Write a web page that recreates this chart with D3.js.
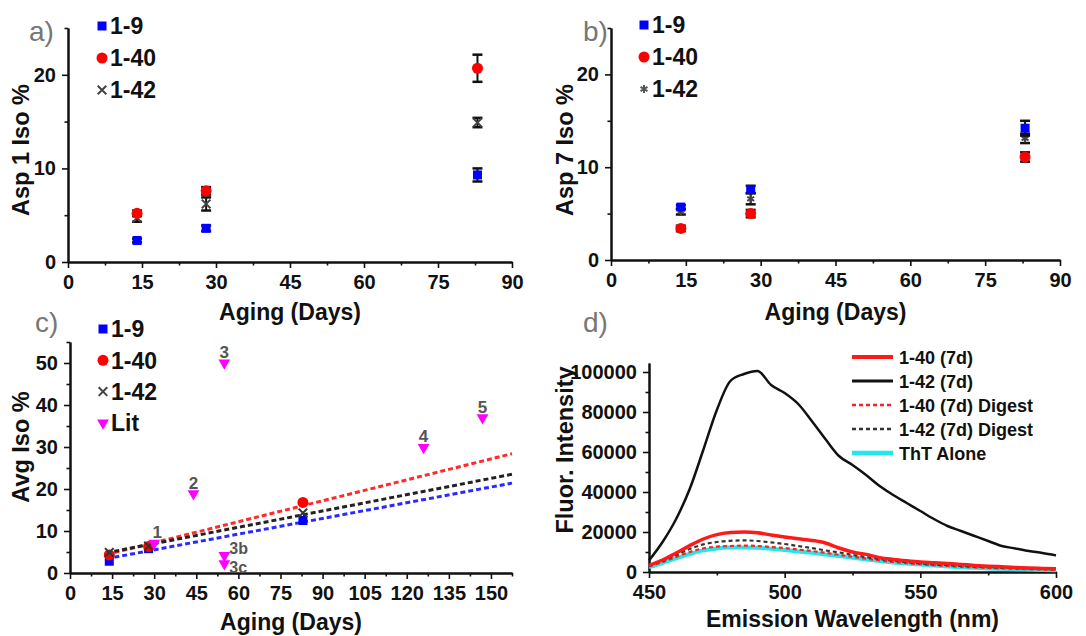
<!DOCTYPE html>
<html>
<head>
<meta charset="utf-8">
<script src="https://cdn.jsdelivr.net/npm/d3@7"></script>
<style>
  body { margin: 0; background: #fff; }
  svg { display: block; font-family: "Liberation Sans", Arial, sans-serif; }
  .tick text { font-size: 20px; font-weight: bold; fill: #111; font-family: "Liberation Sans", Arial, sans-serif; }
  .domain { stroke: #111; stroke-width: 2; }
  .tick line { stroke: #111; stroke-width: 1.6; }
</style>
</head>
<body>
<svg width="1086" height="636"></svg>
<script>
// ---- data: panels a-c (days aged)
var days = [14, 28, 83];

// a) Asp 1 Iso %
var a19 = [2.3, 3.6, 9.3],   a19Err = [0.2, 0.3, 0.7];
var a140 = [5.2, 7.6, 20.7], a140Err = [0.3, 0.4, 1.45];
var a142 = [4.7, 6.2, 14.9], a142Err = [0.4, 0.7, 0.5];

// b) Asp 7 Iso %
var b19 = [5.7, 7.6, 14.2],  b19Err = [0.2, 0.4, 0.8];
var b140 = [3.4, 5.0, 11.1], b140Err = [0.3, 0.4, 0.5];
var b142 = [5.2, 6.6, 13.1], b142Err = [0.3, 0.6, 0.5];

// c) Avg Iso % with linear fits
var c19 = [2.8, 5.8, 12.5];
var c140 = [4.3, 6.3, 16.8];
var c142 = [4.9, 6.4, 14.3];
var fitDays = [13, 157.5];
var fit19 = [3.4, 21.4];
var fit140 = [4.4, 28.4];
var fit142 = [4.8, 23.5];
var litDays = [30, 44, 55, 55, 55, 126, 147];
var litVals = [7.1, 18.9, 50, 4.2, 2.2, 29.9, 37];
var litLabels = ["1", "2", "3", "3b", "3c", "4", "5"];

// d) ThT fluorescence spectra
var wl = [450,455,460,465,470,475,480,485,490,495,500,505,510,515,520,525,530,535,540,545,550,555,560,565,570,575,580,585,590,595,600];
var f140 = [3300,6000,9500,13200,16500,18700,19700,20000,19600,18500,17500,16600,15800,14500,12000,10000,8800,7200,6300,5600,5000,4600,4200,3800,3300,2900,2600,2300,2000,1800,1600];
var f142 = [5800,15000,26500,41500,61000,81000,95500,99000,100500,93500,89500,84000,75500,66500,58000,53500,48500,43000,38500,34500,30500,26500,23000,20500,18000,15500,13000,11800,10500,9500,8300];
var f140d = [2800,5000,7500,10000,11800,12700,13000,13200,13000,12500,12000,11200,10500,9600,8600,7600,6700,5800,5000,4400,3900,3400,3000,2600,2300,2000,1800,1600,1400,1200,1100];
var f142d = [3000,5500,8500,11500,13800,15000,15600,15800,15500,14800,14000,13000,12000,10800,9800,8600,7500,6500,5600,4900,4300,3800,3400,3000,2700,2400,2100,1900,1700,1500,1300];
var fTht = [2400,4500,6800,9000,10800,11800,12200,12300,12100,11600,11000,10300,9600,8800,8000,7100,6300,5500,4800,4200,3700,3200,2800,2400,2100,1800,1600,1400,1200,1000,900];

var svg = d3.select("svg");
svg.append("rect").attr("width", 1086).attr("height", 636).attr("fill", "#fff");

// build an Origin-style frame: left + bottom axes, major and minor ticks out
function frame(o) {
    var x = d3.scaleLinear().domain(o.xd).range([o.x0, o.x1]);
    var y = d3.scaleLinear().domain(o.yd).range([o.y1, o.y0]);
    var g = svg.append("g");

    g.append("g").attr("transform", "translate(0," + o.y1 + ")")
        .call(d3.axisBottom(x).tickValues(o.xMinor).tickSize(3.5).tickSizeOuter(0).tickFormat(""));
    g.append("g").attr("transform", "translate(0," + o.y1 + ")")
        .call(d3.axisBottom(x).tickValues(o.xMajor).tickSize(6).tickSizeOuter(0).tickPadding(7)
            .tickFormat(d3.format("d")));
    g.append("g").attr("transform", "translate(" + o.x0 + ",0)")
        .call(d3.axisLeft(y).tickValues(o.yMinor).tickSize(3.5).tickSizeOuter(0).tickFormat(""));
    g.append("g").attr("transform", "translate(" + o.x0 + ",0)")
        .call(d3.axisLeft(y).tickValues(o.yMajor).tickSize(6).tickSizeOuter(0).tickPadding(6)
            .tickFormat(d3.format("d")));

    // panel letter
    svg.append("text").attr("x", o.letterX).attr("y", o.letterY)
        .attr("font-size", 28).attr("fill", "#777").text(o.letter);
    // titles
    svg.append("text").attr("x", (o.x0 + o.x1) / 2).attr("y", o.xtY)
        .attr("text-anchor", "middle").attr("font-size", 23).attr("font-weight", "bold")
        .attr("fill", "#111").text(o.xt);
    svg.append("text").attr("transform", "translate(" + o.ytX + "," + o.ytY + ") rotate(-90)")
        .attr("text-anchor", "middle").attr("font-size", 23.5).attr("font-weight", "bold")
        .attr("fill", "#111").text(o.yt);
    return {x: x, y: y, g: g};
}

function marker(g, kind, cx, cy, color) {
    if (kind === "square") {
        g.append("rect").attr("x", cx - 4.5).attr("y", cy - 4.5).attr("width", 9).attr("height", 9).attr("fill", color);
    } else if (kind === "circle") {
        g.append("circle").attr("cx", cx).attr("cy", cy).attr("r", 5.5).attr("fill", color);
    } else if (kind === "times") {
        g.append("path").attr("transform", "translate(" + cx + "," + cy + ")")
            .attr("d", d3.symbol(d3.symbolTimes, 50)()).attr("fill", "none")
            .attr("stroke", color).attr("stroke-width", 2);
    } else if (kind === "aster") {
        g.append("path").attr("transform", "translate(" + cx + "," + cy + ")")
            .attr("d", d3.symbol(d3.symbolAsterisk, 45)()).attr("fill", "none")
            .attr("stroke", color).attr("stroke-width", 2);
    } else if (kind === "tri") {
        g.append("path").attr("transform", "translate(" + cx + "," + cy + ") rotate(180)")
            .attr("d", d3.symbol(d3.symbolTriangle, 60)()).attr("fill", color);
    }
}

function scatter(p, vals, errs, kind, color) {
    vals.forEach(function (v, i) {
        var cx = p.x(days[i]);
        if (errs) {
            var e = errs[i];
            var eg = p.g.append("g").attr("stroke", "#111").attr("stroke-width", 2);
            eg.append("line").attr("x1", cx).attr("x2", cx).attr("y1", p.y(v - e)).attr("y2", p.y(v + e));
            eg.append("line").attr("x1", cx - 5).attr("x2", cx + 5).attr("y1", p.y(v - e)).attr("y2", p.y(v - e)).attr("stroke-width", 2.5);
            eg.append("line").attr("x1", cx - 5).attr("x2", cx + 5).attr("y1", p.y(v + e)).attr("y2", p.y(v + e)).attr("stroke-width", 2.5);
        }
        marker(p.g, kind, cx, p.y(v), color);
    });
}

function legend(items, x, y0, dy, size) {
    items.forEach(function (it, i) {
        var yy = y0 + i * dy;
        marker(svg, it.kind, x, yy, it.color);
        svg.append("text").attr("x", x + 8).attr("y", yy + size * 0.36)
            .attr("font-size", size).attr("font-weight", "bold").attr("fill", "#111").text(it.name);
    });
}

var dayMajor = d3.range(0, 91, 15), dayMinor = d3.range(7.5, 90, 15);

// ---------- a)
var pa = frame({xd: [0, 90], yd: [0, 25], x0: 68, x1: 512, y0: 28, y1: 262,
    xMajor: dayMajor, xMinor: dayMinor, yMajor: [0, 10, 20], yMinor: [5, 15, 25],
    letter: "a)", letterX: 29, letterY: 41, xt: "Aging (Days)", xtY: 320,
    yt: "Asp 1 Iso %", ytX: 29, ytY: 150});
scatter(pa, a142, a142Err, "times", "#444");
scatter(pa, a19, a19Err, "square", "#0000ff");
scatter(pa, a140, a140Err, "circle", "#ff0000");
legend([{name: "1-9", kind: "square", color: "#0000ff"},
        {name: "1-40", kind: "circle", color: "#ff0000"},
        {name: "1-42", kind: "times", color: "#444"}], 102, 26, 32, 23);

// ---------- b)
var pb = frame({xd: [0, 90], yd: [0, 25], x0: 611, x1: 1060, y0: 28, y1: 260,
    xMajor: dayMajor, xMinor: dayMinor, yMajor: [0, 10, 20], yMinor: [5, 15, 25],
    letter: "b)", letterX: 583, letterY: 41, xt: "Aging (Days)", xtY: 320,
    yt: "Asp 7 Iso %", ytX: 573, ytY: 150});
scatter(pb, b142, b142Err, "aster", "#444");
scatter(pb, b140, b140Err, "circle", "#ff0000");
scatter(pb, b19, b19Err, "square", "#0000ff");
legend([{name: "1-9", kind: "square", color: "#0000ff"},
        {name: "1-40", kind: "circle", color: "#ff0000"},
        {name: "1-42", kind: "aster", color: "#555"}], 644, 25, 32, 23);

// ---------- c)
var pc = frame({xd: [0, 157.5], yd: [0, 55], x0: 70, x1: 512, y0: 342, y1: 573,
    xMajor: d3.range(0, 151, 15), xMinor: d3.range(7.5, 158, 15),
    yMajor: d3.range(0, 51, 10), yMinor: d3.range(5, 56, 10),
    letter: "c)", letterX: 35, letterY: 332, xt: "Aging (Days)", xtY: 630,
    yt: "Avg Iso %", ytX: 29, ytY: 447});
var fitLine = d3.line().x(function (d) { return pc.x(d[0]); }).y(function (d) { return pc.y(d[1]); });
[[fit19, "#2a2aff"], [fit140, "#ff2a2a"], [fit142, "#222"]].forEach(function (f) {
    pc.g.append("path").attr("d", fitLine(d3.zip(fitDays, f[0])))
        .attr("fill", "none").attr("stroke", f[1]).attr("stroke-width", 3).attr("stroke-dasharray", "5,3");
});
scatter(pc, c19, null, "square", "#0000ff");
scatter(pc, c140, null, "circle", "#ff0000");
scatter(pc, c142, null, "times", "#333");
litDays.forEach(function (d, i) {
    var cx = pc.x(d), cy = pc.y(litVals[i]);
    marker(pc.g, "tri", cx, cy, "#ff00ff");
    var side = litLabels[i].length > 1;
    pc.g.append("text")
        .attr("x", side ? cx + 5 : cx + (litLabels[i] === "1" ? 3 : 0))
        .attr("y", side ? cy + (litLabels[i] === "3b" ? -1 : 9) : cy - 5)
        .attr("text-anchor", side ? "start" : "middle")
        .attr("font-size", side ? 16 : 17).attr("font-weight", "bold").attr("fill", "#555").text(litLabels[i]);
});
legend([{name: "1-9", kind: "square", color: "#0000ff"},
        {name: "1-40", kind: "circle", color: "#ff0000"},
        {name: "1-42", kind: "times", color: "#444"},
        {name: "Lit", kind: "tri", color: "#ff00ff"}], 103, 329, 31.3, 23);

// ---------- d)
var pd = frame({xd: [450, 600], yd: [0, 104500], x0: 649, x1: 1056, y0: 363, y1: 572,
    xMajor: [450, 500, 550, 600], xMinor: [475, 525, 575],
    yMajor: d3.range(0, 100001, 20000), yMinor: d3.range(10000, 100001, 20000),
    letter: "d)", letterX: 583, letterY: 332, xt: "Emission Wavelength (nm)", xtY: 627,
    yt: "Fluor. Intensity", ytX: 573, ytY: 450});
var spec = d3.line().curve(d3.curveMonotoneX)
    .x(function (d) { return pd.x(d[0]); }).y(function (d) { return pd.y(d[1]); });
var dSeries = [
    {name: "1-40 (7d)", vals: f140, color: "#ff1a1a", w: 3.5, dash: null},
    {name: "1-42 (7d)", vals: f142, color: "#111", w: 2.5, dash: null},
    {name: "1-40 (7d) Digest", vals: f140d, color: "#ff2020", w: 2.2, dash: "4,3"},
    {name: "1-42 (7d) Digest", vals: f142d, color: "#333", w: 2.2, dash: "4,3"},
    {name: "ThT Alone", vals: fTht, color: "#22e8ee", w: 4, dash: null}
];
[4, 2, 3, 0, 1].forEach(function (k) {
    var s = dSeries[k];
    pd.g.append("path").attr("d", spec(d3.zip(wl, s.vals))).attr("fill", "none")
        .attr("stroke", s.color).attr("stroke-width", s.w)
        .attr("stroke-dasharray", s.dash);
});
dSeries.forEach(function (s, i) {
    var yy = 357 + i * 24;
    svg.append("line").attr("x1", 852).attr("x2", 893).attr("y1", yy).attr("y2", yy)
        .attr("stroke", s.color).attr("stroke-width", s.dash ? 2.5 : s.w + 0.5).attr("stroke-dasharray", s.dash);
    svg.append("text").attr("x", 899).attr("y", yy + 6.5).attr("font-size", 18)
        .attr("font-weight", "bold").attr("fill", "#111").text(s.name);
});
</script>
</body>
</html>
